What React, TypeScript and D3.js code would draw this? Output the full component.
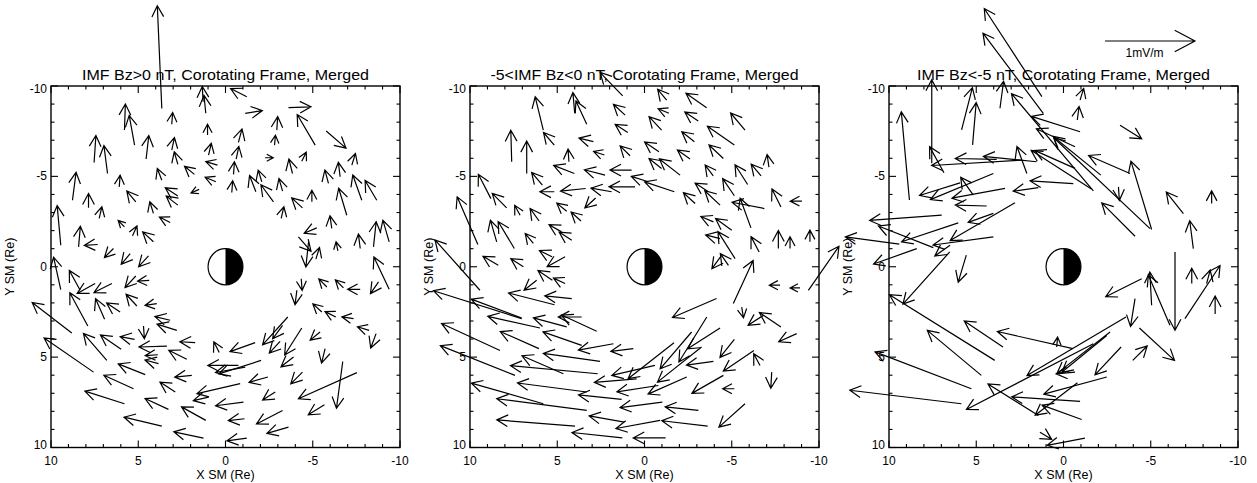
import React from 'react';
import * as d3 from 'd3';

// tail X, tail Y (SM, Re) and Ex, Ey (mV/m)
const BZ_NORTH: number[][] = [
  [3.65, -8.76, 0.05, -1.14], [1.13, -8.49, 0.02, -0.2], [1.28, -9.13, 0.01, -0.17], [-1.22, -9.41, 0.18, -0.09],
  [-1.13, -8.49, -0.19, -0.03], [-3.61, -8.8, -0.25, -0.01], [3.08, -7.88, -0.01, -0.13], [5.79, -7.56, -0.01, -0.29],
  [5.21, -6.73, 0.06, -0.33], [1.03, -7.29, 0, -0.12], [-2.94, -7.56, -0.01, -0.15], [-5.14, -6.73, 0.2, -0.34],
  [-5.77, -7.51, -0.22, 0.19], [7.53, -5.77, -0.02, -0.3], [6.76, -5.16, 0.04, -0.31], [4.55, -5.96, -0.03, -0.26],
  [3.08, -6.45, -0.03, -0.14], [-0.74, -6.88, -0.04, -0.15], [-2.81, -6.73, -0.01, -0.11], [0.97, -6.18, -0.03, -0.13],
  [2.73, -5.66, 0.04, -0.14], [-0.61, -5.96, -0.03, -0.14], [-2.27, -6.03, -0.09, 0], [-4.37, -5.84, -0.05, -0.1],
  [-7.24, -5.62, -0.04, -0.13], [0.46, -5.62, 0.13, -0.04], [-0.46, -5.11, -0.01, -0.14], [8.77, -3.68, -0.04, -0.31],
  [6.09, -4.42, -0.01, -0.13], [3.65, -4.79, 0.05, -0.13], [1.78, -5.11, 0.11, -0.09], [-3.84, -5.16, 0.04, -0.16],
  [-5.9, -4.61, 0.04, -0.15], [-6.57, -4.98, 0.02, -0.16], [-7.81, -3.68, 0.1, -0.28], [-8.67, -3.68, 0.13, -0.22],
  [-6.95, -2.85, 0.09, -0.3], [-1.74, -4.15, 0.07, -0.18], [-2.08, -4.7, 0.04, -0.13], [-2.75, -3.59, 0.14, -0.19],
  [-3.27, -4.18, 0.04, -0.14], [-0.36, -4.11, -0.01, -0.13], [0.55, -4.7, 0.12, -0.05], [1.51, -4.28, 0.09, 0.04],
  [5.14, -3.59, 0.1, -0.12], [7.85, -3.26, 0, -0.16], [7.24, -2.67, -0.03, -0.13], [9.44, -1.19, 0.04, -0.44],
  [4.13, -2.95, 0.04, -0.13], [3.17, -2.45, 0.12, -0.06], [2.73, -3.92, 0.14, -0.09], [2.73, -3.41, 0.13, -0.1],
  [5.79, -2.21, 0.07, -0.07], [5.33, -1.71, -0.05, -0.11], [4.13, -1.38, 0.12, -0.11], [8.42, -1.1, -0.02, -0.23],
  [7.32, -1.23, 0.15, 0.01], [6.42, -1.01, 0.1, 0.1], [5.46, -0.73, 0.1, 0.12], [4.41, -0.6, 0.11, 0.12],
  [-5.23, -2.15, 0.14, 0.06], [-6.09, -2.12, 0.02, -0.14], [-8.48, -1.1, -0.03, -0.28], [-9.38, -1.38, 0.07, -0.24],
  [-7.72, -1.01, 0.02, -0.16], [-6.44, -0.88, 0.02, -0.1], [-5.18, -0.42, -0.04, -0.13], [-4.18, -1.65, -0.14, 0.16],
  [-4.76, -1.38, 0.03, 0.28], [-4.41, -3.26, 0.12, -0.11], [-3.19, -2.67, -0.03, -0.13], [-4.95, -3.59, 0, -0.13],
  [9.44, 1.26, 0.08, -0.36], [8.33, 1.3, 0.12, -0.22], [7.47, 0.93, 0.2, 0.11], [6.51, 0.93, 0.2, 0.1],
  [5.14, 0.51, 0.12, 0.13], [4.37, 0.75, 0.13, 0.01], [7.89, 3.28, 0.2, -0.37], [6.93, 2.91, 0.1, -0.23],
  [6.04, 2.5, 0.15, -0.1], [5.08, 2.17, 0.12, -0.13], [3.94, 2.04, 0.13, 0.02], [3.17, 2.96, 0.17, -0.04],
  [2.79, 3.52, 0.22, -0.07], [8.81, 3.67, 0.44, -0.34], [7.56, 5.83, 0.55, -0.38], [6.8, 5.18, 0.26, -0.3],
  [5.98, 4.57, 0.23, -0.16], [5.21, 4.02, 0.16, -0.03], [4.7, 3.28, -0.01, 0.14], [3.36, 4.39, 0.31, 0.01],
  [3.88, 4.87, 0.14, 0.01], [3.84, 5.36, 0.15, -0.04], [1.74, 4.2, 0.17, -0.01], [2.22, 5.12, 0.2, -0.1],
  [0.36, 4.75, 0.06, -0.12], [-1.7, 4.2, 0.28, 0.1], [-0.74, 5.46, 0.34, 0], [-2.04, 5.18, 0.47, 0.15],
  [-1.13, 5.55, 0.33, 0.06], [1.93, 6.01, 0.19, 0.02], [3.27, 7.89, 0.26, -0.12], [2.88, 6.93, 0.17, -0.11],
  [5.27, 6.75, 0.33, -0.15], [4.6, 5.97, 0.3, -0.12], [5.79, 7.58, 0.44, -0.14], [3.65, 8.82, 0.42, -0.1],
  [1.13, 8.5, 0.27, -0.15], [1.26, 9.48, 0.33, -0.07], [-0.84, 6.47, 0.48, 0.11], [-1.03, 7.49, 0.31, 0.04],
  [-1.09, 8.41, 0.18, 0.02], [-1.22, 9.48, 0.22, 0.03], [-2.43, 6.1, 0.21, 0.06], [-2.85, 6.93, 0.14, 0.09],
  [-3.27, 7.95, 0.29, 0.15], [-3.61, 8.87, 0.24, 0.07], [-3.57, 2.78, 0.28, 0.31], [-3.13, 4.13, 0.12, 0.13],
  [-3.27, 3.24, 0.11, 0.15], [-4.37, 3.39, 0.19, 0.3], [-3.9, 4.99, 0.14, 0.11], [-4.41, 5.83, 0.13, 0.13],
  [-7.53, 5.86, 0.65, 0.29], [-6.72, 5.24, 0.07, 0.52], [-5.67, 7.64, 0.18, 0.11], [-4.34, 0.66, -0.01, 0.13],
  [-4.09, 1.3, 0.02, 0.16], [-5.81, 1.12, 0.09, -0.09], [-6.76, 1.17, 0.09, -0.09], [-7.72, 1.25, 0.14, 0],
  [-8.77, 0.84, 0.09, 0.13], [-9.38, 1.25, 0.17, -0.36], [-5.52, 2.5, 0.1, -0.09], [-6.32, 2.78, 0.12, -0.06],
  [-7.34, 2.87, 0.13, -0.02], [-8.23, 3.52, 0.13, -0.04], [-8.63, 3.7, 0.06, 0.16], [-5.42, 3.61, 0.11, 0.09],
  [-5.71, 4.53, 0.04, 0.16], [0.97, 7.21, 0.17, 0.04],
];

const BZ_WEAK_SOUTH: number[][] = [
  [5.8, -7.56, 0.09, -0.37], [3.31, -7.88, 0.12, -0.26], [4.0, -8.49, 0.02, -0.23], [1.25, -9.45, 0.25, -0.26],
  [-1.27, -9.22, 0.1, -0.12], [-3.56, -8.8, 0.23, -0.16], [1.11, -8.39, 0.13, -0.12], [-0.98, -7.56, 0.14, -0.15],
  [-1.4, -8.49, 0.12, -0.05], [-3.08, -8.06, 0.15, -0.1], [-5.76, -7.56, 0.16, -0.19], [0.96, -7.43, 0.14, -0.09],
  [-2.86, -6.92, 0.14, -0.11], [-5.15, -6.73, 0.3, -0.21], [7.61, -5.81, 0.01, -0.35], [6.75, -5.16, 0, -0.36],
  [5.17, -6.73, 0.12, -0.14], [2.93, -6.92, 0.16, -0.04], [0.83, -6.14, 0.11, -0.11], [-0.83, -6.36, 0.16, -0.11],
  [-2.61, -5.96, 0.14, -0.1], [-4.52, -5.99, 0.16, -0.15], [4.33, -5.81, 0.01, -0.14], [2.3, -6.18, 0.12, -0.04],
  [-0.98, -5.44, 0.14, -0.11], [-2.04, -5.07, 0.23, -0.18], [-3.94, -5.03, 0.09, -0.12], [-5.91, -4.55, 0.14, -0.22],
  [-6.68, -5.03, 0.11, -0.13], [-7.13, -5.51, 0.02, -0.14], [4.02, -5.16, 0.23, -0.09], [2.26, -5.07, 0.23, -0.06],
  [0.74, -5.35, 0.24, 0], [5.85, -4.52, 0.12, -0.14], [8.8, -3.77, 0.14, -0.27], [7.9, -3.26, 0.16, -0.16],
  [5.17, -4.15, 0.16, 0], [3.37, -4.33, 0.28, 0.03], [1.88, -4.15, 0.23, -0.04], [0.54, -4.42, 0.29, 0],
  [-0.22, -4.7, 0.19, -0.06], [-1.71, -4.15, 0.33, -0.11], [-2.9, -3.5, 0.13, -0.12], [-3.62, -4.18, 0.14, -0.09],
  [-4.33, -3.41, 0.17, -0.16], [-5.15, -3.93, 0.13, -0.19], [-7.82, -3.31, 0.1, -0.2], [-9.02, -3.63, 0.13, 0],
  [7.13, -2.85, 0.06, -0.11], [6.04, -2.53, 0.1, -0.14], [4.46, -3.07, 0.11, -0.09], [3.64, -2.53, 0.11, -0.1],
  [2.8, -3.8, 0.12, 0.11], [9.55, -1.23, 0.23, -0.53], [8.47, -1.38, 0.07, -0.24], [7.46, -1.01, 0.18, -0.3],
  [6.37, -1.29, 0.09, -0.11], [4.75, -1.93, 0.14, -0.08], [4.17, -1.47, 0.14, -0.09], [4.55, -0.55, 0.2, 0.11],
  [5.3, -0.55, 0.14, -0.07], [8.38, -0.08, 0.17, -0.1], [6.94, 0, 0.14, -0.09], [-3.95, -2.48, 0.14, -0.06],
  [-5.0, -2.02, 0.18, -0.13], [-6.87, -3.22, 0.36, -0.07], [-6.1, -2.15, 0.12, -0.33], [-6.57, -0.82, 0.09, -0.17],
  [-5.19, -0.45, 0.19, -0.3], [-4.33, -1.56, 0.16, -0.04], [-4.81, -0.08, 0.09, -0.13], [-7.67, -1.01, 0, -0.2],
  [-8.34, -1.01, 0, -0.13], [-9.48, -1.38, 0, -0.13], [-9.39, 1.31, -0.34, -0.49], [-4.43, -0.64, 0.11, 0.15],
  [-7.77, 1.02, 0.12, 0], [-8.91, 1.17, 0.11, 0], [-5.09, 2.04, -0.22, -0.48], [-4.13, 1.76, 0.49, 0.21],
  [-5.57, 2.23, -0.02, 0.12], [-7.82, 3.33, 0.24, -0.16], [-6.81, 2.69, 0.17, 0.11], [-8.72, 3.7, 0.2, 0.09],
  [-6.62, 5.46, 0.07, -0.13], [-7.29, 5.83, 0.01, 0.18], [-5.76, 7.58, 0.29, 0.26], [-5.15, 6.75, 0.13, 0],
  [-6.27, 4.63, 0.34, 0.23], [-5.15, 4.02, 0.16, 0.2], [-4.33, 3.39, 0.36, 0.23], [-3.57, 2.78, 0.31, 0.5],
  [-3.95, 5.24, 0.3, 0.04], [-4.52, 6.01, 0.35, 0.2], [-3.27, 4.44, 0.49, 0.39], [-2.42, 6.1, 0.43, 0.19],
  [-2.7, 3.61, 0.35, 0.41], [-1.69, 4.2, 0.51, 0.4], [-0.6, 5.46, 0.48, 0.11], [0.64, 4.53, 0.25, 0.03],
  [1.78, 4.26, 0.39, 0.07], [2.74, 3.57, 0.39, -0.18], [3.6, 2.78, 0.26, 0], [4.17, 1.76, 0.3, -0.03],
  [5.28, 0.75, 0.16, -0.11], [4.55, 0.93, 0.13, -0.06], [6.18, 0.75, 0.14, 0.11], [7.04, 2.84, 0.56, -0.21],
  [5.99, 3.39, 0.58, -0.13], [6.05, 4.53, 0.43, -0.19], [5.16, 2.1, 0.51, -0.13], [4.46, 3.33, 0.37, -0.1],
  [2.55, 5.24, 0.63, -0.09], [4.65, 5.92, 0.46, -0.2], [2.68, 5.92, 0.97, -0.09], [5.8, 7.58, 0.8, -0.23],
  [3.31, 7.95, 1.0, -0.13], [3.98, 8.82, 0.87, -0.07], [3.31, 6.93, 0.77, -0.1], [1.31, 7.34, 0.48, -0.05],
  [1.27, 9.47, 0.56, -0.06], [1.16, 8.6, 0.39, -0.07], [-0.89, 8.5, 0.49, 0.09], [-1.21, 9.47, 0.36, 0],
  [-1.02, 7.49, 0.47, 0.06], [-0.79, 6.57, 0.46, 0.07], [0.45, 6.2, 0.47, 0.04], [-3.09, 7.95, 0.37, -0.04],
  [-3.62, 8.82, 0.51, -0.06], [3.6, 4.35, 0.43, -0.15], [9.43, 1.3, 0.5, -0.56], [7.04, 2.87, 0.98, -0.31],
  [8.28, 4.63, 0.65, -0.3], [7.42, 6.01, 0.83, -0.33],
];

const BZ_STRONG_SOUTH: number[][] = [
  [1.24, -9.41, 0.64, -0.98], [1.16, -8.49, 0.67, -0.89], [7.55, -5.72, 0, -0.93], [8.83, -3.69, 0.09, -0.98],
  [5.84, -7.57, -0.12, -0.47], [5.21, -6.74, -0.04, -0.47], [3.64, -8.77, -0.04, -0.3], [-0.95, -9.22, -0.04, -0.13],
  [-0.79, -8.12, -0.02, -0.15], [-3.24, -7.83, -0.24, 0.15], [-0.95, -7.47, 0.54, -0.17], [-2.14, -5.07, 0.53, -0.43],
  [-0.66, -6.64, 0.43, -0.2], [-1.71, -4.2, 0.91, -1.08], [-4.1, -1.69, 0.37, -0.37], [-4.96, -2.11, 1.07, -1.01],
  [-5.05, -2.06, 0.23, -0.76], [-3.81, -5.16, 0.46, -0.2], [-3.15, -4.42, -0.01, 0.15], [-6.87, -2.94, 0.19, -0.24],
  [-7.44, -1.0, 0.04, -0.31], [-8.49, -3.5, 0, -0.14], [-0.66, -5.44, 0.45, -0.2], [2.1, -5.16, 0.11, -0.3],
  [2.4, -5.9, 1.0, 0.06], [3.83, -5.94, 0.46, -0.01], [1.55, -5.81, 0.59, -0.06], [6.85, -5.2, 0.16, -0.29],
  [-1.6, -4.3, 0.67, -0.43], [-0.56, -4.6, 0.48, -0.03], [1.44, -4.38, 0.28, 0.04], [5.93, -4.64, 0.45, 0.14],
  [4.02, -5.16, 0.7, 0.29], [3.35, -4.34, 0.59, 0.11], [4.4, -3.36, 0.35, -0.01], [5.17, -3.96, 0.14, -0.2],
  [6.98, -2.86, 0.8, 0.06], [7.46, -1.06, 0.61, -0.24], [6.03, -2.43, 0.63, 0.21], [2.78, -3.54, 0.72, 0.42],
  [4.02, -1.65, 0.67, 0.09], [4.02, -2.95, 0.28, 0.1], [9.41, -1.25, 0.6, -0.08], [8.41, -1.0, 0.48, 0.17],
  [6.5, -1.19, 0.17, 0.12], [6.52, -0.82, 0.52, 0.58], [5.57, -0.64, 0.09, 0.3], [3.94, 5.18, 1.17, -0.73],
  [4.71, 6.01, 0.6, -0.5], [3.47, 4.44, 0.43, -0.29], [-0.54, 4.53, 0.84, -0.19], [5.28, 6.75, 1.07, -0.41],
  [5.85, 7.58, 1.24, -0.15], [-3.58, 2.78, 1.1, 0.65], [-1.71, 4.26, 1.41, 0.73], [-2.67, 3.61, 0.59, 0.46],
  [-2.48, 3.8, 0.5, 0.41], [-0.66, 5.83, 0.21, 0.02], [0.39, 4.44, -0.01, -0.11], [-3.3, 4.44, 0.29, 0.31],
  [-2.48, 6.1, 0.7, 0.19], [-0.95, 7.45, 0.76, -0.05], [-1.04, 8.45, 0.44, -0.16], [-0.8, 6.42, 0.47, 0.36],
  [1.44, 8.23, 0.56, -0.35], [-1.23, 9.48, 0.42, 0.08], [1.35, 9.15, -0.13, 0.08], [-4.48, 0.66, 0.4, 0.2],
  [-4.1, 1.76, 0.05, 0.31], [-4.35, 3.39, -0.39, 0.36], [-3.97, 5.18, -0.16, -0.16], [-6.39, -0.82, 0, 0.87],
  [-8.69, 2.61, 0, -0.2], [-6.96, 2.87, -0.39, -0.59], [-7.35, 0.93, 0, -0.17], [-8.2, 0.93, -0.04, -0.15],
  [-6.1, 3.24, 0.24, -0.56], [-5.05, 2.13, 0.02, -0.37],
];

const TITLES = [
  'IMF Bz>0 nT, Corotating Frame, Merged',
  '-5<IMF Bz<0 nT, Corotating Frame, Merged',
  'IMF Bz<-5 nT, Corotating Frame, Merged',
];
const TITLE_WIDTHS = [287, 308, 293];
const TICK_LABELS = [10, 5, 0, -5, -10];
const FIELD_SETS = [BZ_NORTH, BZ_WEAK_SOUTH, BZ_STRONG_SOUTH];

const W = 1257;
const H = 483;
const PLOT_W = 349;
const PLOT_H = 361.5;
const TOP = 86;
const FONT = '"Liberation Sans", Arial, Helvetica, sans-serif';

// 1 mV/m -> pixels
const vec = d3.scaleLinear().domain([0, 1]).range([0, 90]);

function arrowPath(x0: number, y0: number, x1: number, y1: number, head?: number) {
  const dx = x1 - x0;
  const dy = y1 - y0;
  const len = Math.hypot(dx, dy);
  const p = d3.path();
  if (len < 0.5) return '';
  const hl = head ?? Math.min(12.5, Math.max(6, 0.9 * len));
  const ang = Math.atan2(dy, dx);
  const a = (28 * Math.PI) / 180;
  p.moveTo(x0, y0);
  p.lineTo(x1, y1);
  p.moveTo(x1 - hl * Math.cos(ang - a), y1 - hl * Math.sin(ang - a));
  p.lineTo(x1, y1);
  p.lineTo(x1 - hl * Math.cos(ang + a), y1 - hl * Math.sin(ang + a));
  return p.toString();
}

function Panel({ index }: { index: number }) {
  const left = 51 + 419 * index;
  const x = d3.scaleLinear().domain([10, -10]).range([left, left + PLOT_W]);
  const y = d3.scaleLinear().domain([-10, 10]).range([TOP, TOP + PLOT_H]);
  const bottom = TOP + PLOT_H;
  const right = left + PLOT_W;
  const ticks = d3.range(-10, 11);

  const cx = x(0);
  const cy = y(0);
  const rx = Math.abs(x(1) - x(0));
  const ry = y(1) - y(0);

  return (
    <g>
      <text
        x={(left + right) / 2}
        y={79.5}
        textAnchor="middle"
        fontSize={15}
        fontFamily={FONT}
        textLength={TITLE_WIDTHS[index]}
        lengthAdjust="spacingAndGlyphs"
      >
        {TITLES[index]}
      </text>
      {FIELD_SETS[index].map((d, i) => {
        const x0 = x(d[0]);
        const y0 = y(d[1]);
        const x1 = x0 - vec(d[2]);
        const y1 = y0 + vec(d[3]);
        return <path key={i} d={arrowPath(x0, y0, x1, y1)} fill="none" stroke="#000" strokeWidth={1.2} />;
      })}
      {/* Earth: day side white, night side black */}
      <ellipse cx={cx} cy={cy} rx={rx} ry={ry} fill="#fff" stroke="#000" strokeWidth={1.2} />
      <path d={`M${cx},${cy - ry} A${rx},${ry} 0 0 1 ${cx},${cy + ry} Z`} fill="#000" />
      <rect x={left} y={TOP} width={PLOT_W} height={PLOT_H} fill="none" stroke="#000" strokeWidth={1.4} />
      {ticks.map((t) => {
        const len = t % 5 === 0 ? 7 : 3.5;
        return (
          <g key={t} stroke="#000" strokeWidth={1.1}>
            <line x1={x(t)} x2={x(t)} y1={bottom} y2={bottom - len} />
            <line x1={x(t)} x2={x(t)} y1={TOP} y2={TOP + len} />
            <line x1={left} x2={left + len} y1={y(t)} y2={y(t)} />
            <line x1={right} x2={right - len} y1={y(t)} y2={y(t)} />
          </g>
        );
      })}
      {TICK_LABELS.map((t) => (
        <text key={'x' + t} x={x(t)} y={bottom + 17} textAnchor="middle" fontSize={12} fontFamily={FONT}>
          {t}
        </text>
      ))}
      {TICK_LABELS.map((t) => (
        <text
          key={'y' + t}
          x={left - 4}
          y={y(t) + 4 + (t === -10 ? 3 : t === 10 ? -3 : 0)}
          textAnchor="end"
          fontSize={12}
          fontFamily={FONT}
        >
          {t}
        </text>
      ))}
      <text x={(left + right) / 2} y={478.5} textAnchor="middle" fontSize={12.5} fontFamily={FONT}>
        X SM (Re)
      </text>
      <text
        transform={`translate(${left - 37},${cy}) rotate(-90)`}
        textAnchor="middle"
        fontSize={12.5}
        fontFamily={FONT}
      >
        Y SM (Re)
      </text>
    </g>
  );
}

export default function App() {
  return (
    <svg width={W} height={H} style={{ position: 'absolute', left: 0, top: 0, background: '#fff' }}>
      <rect width={W} height={H} fill="#fff" />
      {[0, 1, 2].map((i) => (
        <Panel key={i} index={i} />
      ))}
      <path d={arrowPath(1105, 41, 1105 + vec(1), 41, 23)} fill="none" stroke="#000" strokeWidth={1.2} />
      <text x={1144.5} y={57} textAnchor="middle" fontSize={12} fontFamily={FONT}>
        1mV/m
      </text>
    </svg>
  );
}
